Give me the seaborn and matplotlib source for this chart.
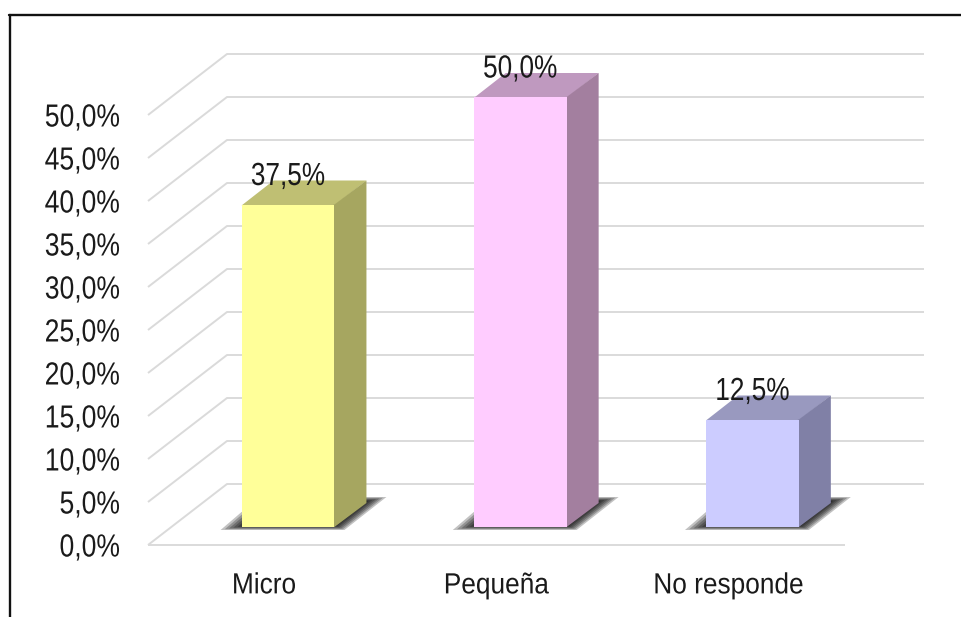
import numpy as np
import seaborn as sns
import matplotlib.pyplot as plt
from matplotlib.lines import Line2D
from matplotlib.patches import Polygon
from matplotlib.patheffects import AbstractPathEffect
from matplotlib.transforms import Affine2D

categories = ["Micro", "Pequeña", "No responde"]
values = [37.5, 50.0, 12.5]
value_labels = ["37,5%", "50,0%", "12,5%"]
y_tick_values = [0, 5, 10, 15, 20, 25, 30, 35, 40, 45, 50]
y_tick_labels = ["0,0%", "5,0%", "10,0%", "15,0%", "20,0%", "25,0%", "30,0%", "35,0%", "40,0%", "45,0%", "50,0%"]
front_colors = ["#FFFF99", "#FFCCFF", "#CCCCFF"]
top_colors = ["#BFBF73", "#BF99BF", "#9999BF"]
side_colors = ["#A6A660", "#A37F9F", "#8080A6"]

W, H = 962, 617
# pixels per category / per percent point, and where bar 0 stands in the picture
PX_X = 232.2
PX_Y = 8.6
X0 = 288
Y0 = 527


def dx(px):
    return px / PX_X


def dy(px):
    return px / PX_Y


class Squeeze(AbstractPathEffect):
    # the reference text is narrower than Liberation Sans, no narrow cut is installed
    def __init__(self, sx, anchor=0.5):
        super().__init__()
        self.sx = sx
        self.anchor = anchor

    def draw_path(self, renderer, gc, tpath, affine, rgbFace=None):
        ext = tpath.get_extents()
        pivot = ext.x0 + ext.width * self.anchor
        squeeze = Affine2D().translate(-pivot, 0).scale(self.sx, 1).translate(pivot, 0)
        renderer.draw_path(gc, tpath, squeeze + affine, rgbFace)


sns.set_style("white")
plt.rcParams["font.family"] = ["Liberation Sans", "DejaVu Sans"]

fig = plt.figure(figsize=(W / 100, H / 100), dpi=100, facecolor="white")
ax = fig.add_axes([0, 0, 1, 1])

sns.barplot(x=categories, y=values, hue=categories, palette=front_colors, order=categories,
            hue_order=categories, width=0.4, saturation=1, legend=False, linewidth=0, ax=ax, zorder=5)

ax.set_xlim(dx(-X0), dx(W - X0))
ax.set_ylim(dy(Y0 - H), dy(Y0))
ax.set_xlabel("")
ax.set_ylabel("")

# plane of the tick labels is in front of the bars
floor = -dy(18)
wall_left = dx(148 - X0)
wall_dx = dx(79)
wall_dy = dy(61)
back_right = dx(924 - X0)
front_right = dx(845 - X0)
line_kw = dict(color="#DADADA", lw=1.4, zorder=1, solid_capstyle="butt")

# gridlines: floor edge, diagonal on the side wall, line on the back wall
ax.plot([wall_left, front_right], [floor, floor], **line_kw)
for v in y_tick_values:
    y = floor + v
    ax.plot([wall_left, wall_left + wall_dx, back_right], [y, y + wall_dy, y + wall_dy], **line_kw)

# 3d faces and soft shadow
half = 0.2
depth_x = dx(32)
depth_y = dy(24)
for i, v in enumerate(values):
    l, r = i - half, i + half
    shadow = np.array([[l - dx(21), -dy(3)], [r + dx(10), -dy(3)], [r + dx(52), dy(30)],
                       [r + dx(31), dy(30)], [l, dy(15)]])
    center = shadow.mean(axis=0)
    for k in np.linspace(1.0, 0.72, 7):
        ax.add_patch(Polygon(center + (shadow - center) * k, closed=True, facecolor="black",
                             edgecolor="none", alpha=0.24, zorder=2))
    # faces start under the bar so no shadow shows through the seam
    ax.add_patch(Polygon([[l, v - dy(1)], [r, v - dy(1)], [r + depth_x, v + depth_y], [l + depth_x, v + depth_y]],
                         closed=True, facecolor=top_colors[i], edgecolor="none", zorder=4))
    ax.add_patch(Polygon([[r - dx(1), 0], [r, 0], [r + depth_x, depth_y], [r + depth_x, v + depth_y], [r, v], [r - dx(1), v]],
                         closed=True, facecolor=side_colors[i], edgecolor="none", zorder=4))

for container, label in zip(ax.containers, value_labels):
    for t in ax.bar_label(container, labels=[label], padding=9, fontsize=23, color="#1A1A1A", zorder=6):
        t.set_path_effects([Squeeze(0.82)])

for side in ["top", "right", "left", "bottom"]:
    ax.spines[side].set_visible(False)
ax.spines["left"].set_position(("data", wall_left))
ax.spines["bottom"].set_position(("data", floor))

ax.set_yticks([floor + v for v in y_tick_values], y_tick_labels)
ax.set_xticks([i - dx(24) for i in range(len(categories))], categories)
ax.tick_params(axis="y", length=0, pad=20, labelsize=23, labelcolor="#1A1A1A")
ax.tick_params(axis="x", length=0, pad=19, labelsize=21, labelcolor="#1A1A1A")
for t in ax.get_yticklabels():
    t.set_path_effects([Squeeze(0.83, anchor=1.0)])
for t in ax.get_xticklabels():
    t.set_path_effects([Squeeze(0.9)])
ax.patch.set_alpha(0)

# picture frame, cut off at the right and bottom
fig.add_artist(Line2D([10 / W, 10 / W], [0, 1 - 15 / H], color="#111111", lw=1.7))
fig.add_artist(Line2D([9 / W, 1], [1 - 15 / H, 1 - 15 / H], color="#111111", lw=1.7))

fig.savefig("out.png", dpi=100, facecolor="white")
